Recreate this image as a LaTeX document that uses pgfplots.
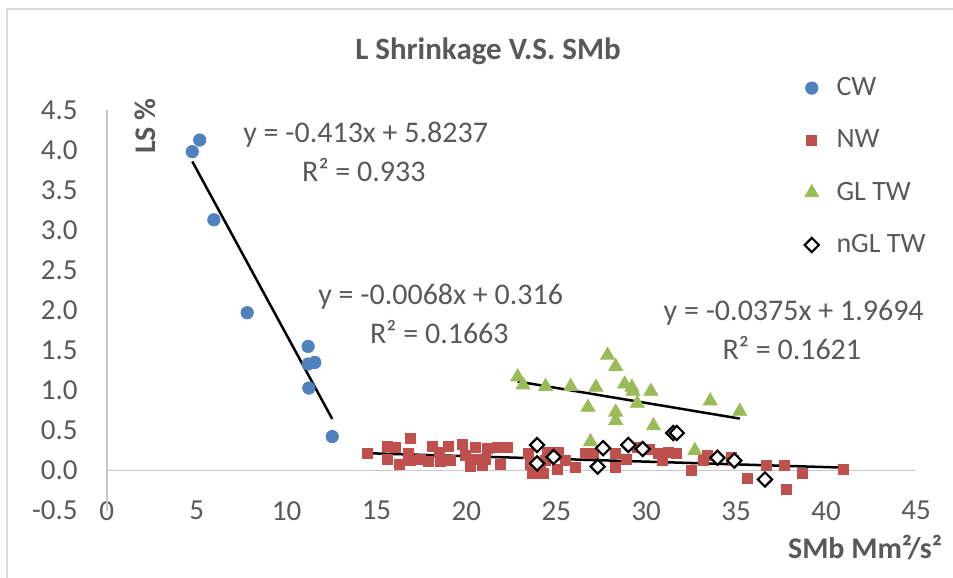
\documentclass[border=0pt]{standalone}
\usepackage{fontspec}
\setmainfont{Carlito}
\usepackage{pgfplots}
\pgfplotsset{compat=1.18}
\definecolor{cwblue}{RGB}{79,129,189}
\definecolor{nwred}{RGB}{192,80,77}
\definecolor{glgreen}{RGB}{155,187,89}
\definecolor{txtgray}{RGB}{89,89,89}
\definecolor{axgray}{RGB}{200,200,200}

\begin{document}
\begin{tikzpicture}[x=0.5pt,y=0.5pt]
\useasboundingbox (0,0) rectangle (953,578);
\draw[black!15, line width=0.6pt] (7,-10) rectangle (970,569);
\node[font=\fontsize{15.5}{18}\selectfont\bfseries, text=txtgray] at (488,527) {L Shrinkage V.S. SMb};
\begin{axis}[
    at={(53.35pt,33.65pt)}, anchor=south west,
    scale only axis,
    width=404.65pt, height=200.35pt,
    xmin=0, xmax=45, ymin=-0.5, ymax=4.5,
    xtick={0,5,...,45},
    ytick={-0.5,0,0.5,1,1.5,2,2.5,3,3.5,4,4.5},
    yticklabel style={/pgf/number format/fixed, /pgf/number format/fixed zerofill, /pgf/number format/precision=1},
    /pgf/number format/assume math mode=true,
    tick label style={font=\fontsize{14.5}{17}\selectfont, text=txtgray},
    xticklabel style={anchor=center, yshift=0pt},
    yticklabel style={anchor=east, inner sep=0pt, xshift=-14.3pt},
    axis line style={draw=none},
    major tick length=0pt,
    extra y ticks={0}, extra y tick labels={},
    extra y tick style={grid=major, major grid style={axgray, line width=0.8pt}},
    extra x ticks={0}, extra x tick labels={},
    extra x tick style={grid=major, major grid style={axgray, line width=0.8pt}},
    xlabel={\textbf{SMb Mm²/s²}},
    xlabel style={at={(axis description cs:0.937,-0.092)}, anchor=center, font=\fontsize{15}{17}\selectfont, text=txtgray},
    ylabel={\textbf{LS \%}},
    ylabel style={at={(axis description cs:0.048,0.96)}, anchor=center, font=\fontsize{15}{17}\selectfont, text=txtgray},
    legend style={at={(axis description cs:0.862,1.087)}, anchor=north west, draw=none, fill=none,
        font=\fontsize{14}{16}\selectfont, text=txtgray, row sep=13.6pt, inner sep=0pt,
        nodes={inner sep=1pt}},
    legend cell align=left,
    legend image code/.code={\draw[mark repeat=2,mark phase=2,#1] plot coordinates {(0cm,0cm) (0.12cm,0cm) (0.24cm,0cm)};
        \path (0.5cm,0cm);},
    clip=false,
]
% CW
\addplot[only marks, mark=*, mark size=3.1pt, color=cwblue, fill=cwblue] coordinates {
(5.17,4.125) (4.76,3.98) (5.96,3.13) (7.81,1.97) (11.2,1.55)
(11.2,1.33) (11.57,1.35) (11.24,1.03) (12.54,0.425)
};
\addlegendentry{CW}
% NW
\addplot[only marks, mark=square*, mark size=2.5pt, color=nwred, fill=nwred] coordinates {
(14.52,0.216) (15.59,0.30) (15.59,0.146) (16.06,0.29) (16.3,0.08)
(16.89,0.40) (16.8,0.21) (16.89,0.13) (17.44,0.146) (17.9,0.11)
(18.09,0.30) (18.5,0.23) (18.56,0.11) (19.02,0.30) (19.1,0.125)
(19.76,0.325) (19.94,0.19) (20.2,0.05) (20.5,0.29) (20.5,0.146)
(20.87,0.06) (21.15,0.28) (21.06,0.146) (21.7,0.29) (21.9,0.08)
(22.26,0.29) (23.46,0.21) (23.56,0.08) (23.65,-0.04) (24.26,-0.04)
(24.4,0.125) (24.1,0.0) (24.5,0.23) (25.1,0.23) (25.04,0.02)
(25.5,0.125) (26.06,0.04) (26.6,0.21) (27.07,0.21) (28.3,0.21)
(28.3,0.04) (28.9,0.146) (29.5,0.29) (30.2,0.27) (30.7,0.21)
(30.9,0.125) (31.24,0.23) (31.7,0.21) (32.5,0.0) (33.2,0.125)
(33.4,0.19) (34.85,0.125) (34.76,0.17) (35.6,-0.1) (36.7,0.06)
(37.7,0.07) (37.8,-0.24) (38.7,-0.04) (40.96,0.02)
};
\addlegendentry{NW}
% GL TW
\addplot[only marks, mark=triangle*, mark size=4pt, color=glgreen, fill=glgreen] coordinates {
(22.85,1.17) (23.15,1.07) (24.4,1.05) (25.8,1.05) (27.2,1.04)
(27.85,1.44) (28.3,1.30) (26.76,0.79) (28.3,0.73) (28.3,0.625)
(28.8,1.08) (29.2,1.04) (29.26,0.99) (29.5,0.84) (30.26,0.99)
(30.4,0.56) (33.56,0.87) (35.2,0.74) (26.9,0.36) (32.7,0.25)
};
\addlegendentry{GL TW}
% nGL TW
\addplot[only marks, mark=square*, mark size=2.5pt, mark options={rotate=45}, draw=black, fill=white, line width=1.1pt] coordinates {
(23.93,0.32) (23.93,0.09) (24.85,0.17) (27.6,0.28) (27.3,0.05)
(29.0,0.32) (29.8,0.27) (31.5,0.47) (31.7,0.47) (33.96,0.16)
(34.9,0.125) (36.6,-0.11)
};
\addlegendentry{nGL TW}
% trendlines
\addplot[black, line width=1.25pt, forget plot] coordinates {(4.76,3.858) (12.54,0.645)};
\addplot[black, line width=1.25pt, forget plot] coordinates {(14.52,0.2173) (40.96,0.0375)};
\addplot[black, line width=1.25pt, forget plot] coordinates {(22.85,1.1125) (35.2,0.6494)};
% trendline labels
\begin{scope}[every node/.style={font=\fontsize{15}{17}\selectfont, text=txtgray}]
\node at (axis cs:14.4,4.19) {y = -0.413x + 5.8237};
\node at (axis cs:14.3,3.75) {R² = 0.933};
\node at (axis cs:18.57,2.17) {y = -0.0068x + 0.316};
\node at (axis cs:18.5,1.73) {R² = 0.1663};
\node at (axis cs:38.2,1.97) {y = -0.0375x + 1.9694};
\node at (axis cs:38.1,1.53) {R² = 0.1621};
\end{scope}
\end{axis}
\end{tikzpicture}
\end{document}
